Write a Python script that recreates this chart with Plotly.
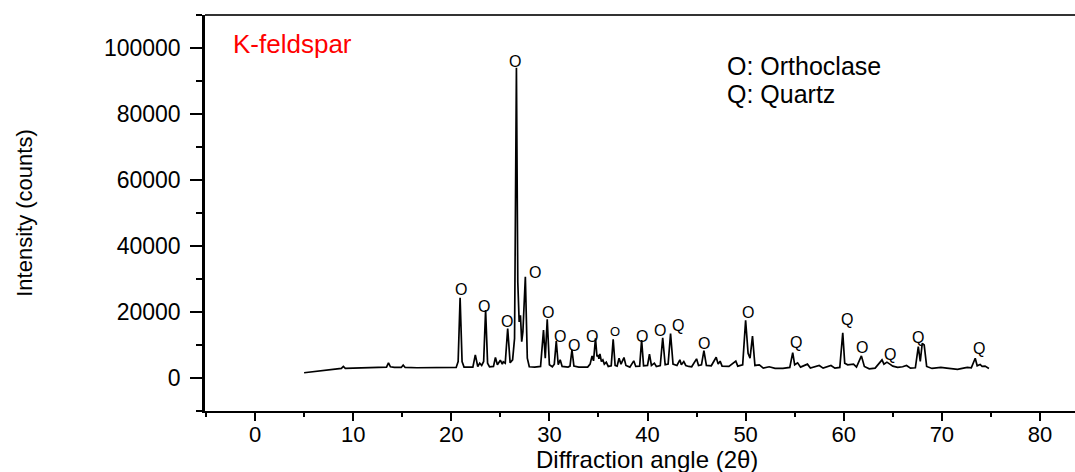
import plotly.graph_objects as go

# XRD pattern (2theta in degrees, intensity in counts)
two_theta = [
    5.0, 6.0, 7.0, 8.0, 8.8, 9.0, 9.2, 10.0, 11.0, 12.0, 13.0, 13.4, 13.6, 13.8, 14.2,
    14.9, 15.1, 15.3, 16.5, 18.0, 19.5, 20.5, 20.7, 20.9, 21.1, 21.3, 22.2, 22.45, 22.7,
    22.9, 23.1, 23.3, 23.5, 23.7, 23.9, 24.3, 24.5, 24.7, 25.0, 25.2, 25.3, 25.5, 25.75,
    26.0, 26.25, 26.45, 26.64, 26.78, 26.92, 27.05, 27.18, 27.3, 27.55, 27.75, 27.95,
    28.5, 29.1, 29.4, 29.58, 29.78, 30.0, 30.3, 30.5, 30.7, 30.9, 31.1, 31.3, 31.9, 32.1,
    32.3, 32.5, 33.0, 33.9, 34.15, 34.35, 34.5, 34.7, 34.85, 34.95, 35.05, 35.15, 35.3,
    35.45, 35.6, 35.8, 36.0, 36.3, 36.5, 36.7, 36.9, 37.1, 37.3, 37.6, 37.8, 38.2, 38.6,
    38.8, 39.2, 39.4, 39.6, 40.0, 40.2, 40.4, 40.7, 40.9, 41.3, 41.55, 41.8, 42.1, 42.35,
    42.6, 43.0, 43.3, 43.45, 43.7, 43.9, 44.2, 44.5, 45.0, 45.2, 45.5, 45.75, 46.0, 46.5,
    47.0, 47.2, 47.4, 47.6, 48.3, 49.0, 49.2, 49.7, 50.0, 50.25, 50.45, 50.7, 50.95, 51.4,
    51.8, 52.4, 53.0, 53.8, 54.5, 54.8, 55.0, 55.3, 55.6, 56.3, 56.6, 57.5, 57.9, 58.7,
    59.1, 59.6, 59.9, 60.1, 60.4, 61.0, 61.3, 61.8, 62.1, 62.6, 63.2, 63.9, 64.1, 64.4,
    64.7, 65.0, 65.5, 66.0, 66.4, 66.8, 67.3, 67.6, 67.8, 68.0, 68.2, 68.45, 69.0, 69.9,
    70.5, 71.6, 72.2, 72.6, 73.0, 73.4, 73.6, 73.9, 74.1, 74.4, 74.8,
]
intensity = [
    1600, 2000, 2300, 2600, 2900, 3500, 2900, 3000, 3100, 3100, 3200, 3300, 4600, 3400, 3200,
    3200, 3900, 3200, 3100, 3200, 3100, 3200, 5000, 24300, 5000, 3300, 3300, 7000, 3500,
    4500, 3800, 5000, 20600, 4500, 3400, 3500, 6200, 4000, 5400, 4200, 4900, 4500, 15000,
    4600, 5500, 12000, 94000, 29000, 17000, 19000, 11000, 14000, 30700, 6000, 3400,
    3300, 3500, 14500, 6000, 17800, 4000, 3400, 4200, 11200, 4000, 5500, 3500, 3300, 3600,
    8500, 3600, 3300, 3300, 4200, 6700, 5200, 12000, 6500, 7000, 5800, 7300, 5000,
    5500, 4200, 4800, 3500, 3700, 11700, 3800, 3600, 6000, 4200, 6200, 3800, 3300, 5200,
    3500, 3600, 11500, 3700, 3800, 7200, 3800, 4500, 3500, 3800, 12200, 4000, 4200, 13500,
    4200, 3800, 5500, 4000, 5000, 3800, 3500, 3400, 5800, 3800, 4000, 8300, 3800, 3700,
    6300, 4200, 5100, 3600, 3500, 5100, 3600, 4000, 17500, 7500, 6000, 12700, 3800, 4000,
    3000, 3400, 2900, 2900, 3200, 7700, 4000, 4600, 3300, 4200, 3000, 3800, 3000, 3800,
    3000, 3200, 13700, 4500, 4000, 4200, 3300, 6700, 3500, 2800, 3000, 5500, 4200, 4800,
    4200, 3600, 3200, 3400, 3800, 3000, 3100, 9500, 5000, 10500, 10000, 3500, 2900, 3200,
    3000, 2600, 3000, 3200, 3100, 6000, 3700, 4100, 3500, 3600, 2900,
]

# Phase labels over peaks
label_text = ["O", "O", "O", "O", "O", "O", "O", "O", "O", "O", "O", "O", "Q",
              "O", "O", "Q", "Q", "O", "Q", "Q", "Q"]
label_x = [21.0, 23.3, 25.7, 26.5, 28.5, 29.9, 31.1, 32.5, 34.3, 36.7, 39.4, 41.3, 43.1,
           45.8, 50.2, 55.1, 60.3, 61.9, 64.7, 67.6, 73.8]
label_y = [26700, 21800, 17000, 96000, 32100, 20000, 12700, 10000, 12700, 14200, 12700,
           14500, 15800, 10600, 19700, 10900, 17600, 9100, 7000, 12400, 8800]
label_size = [16, 16, 16, 16, 16, 16, 16, 16, 16, 13, 16, 16, 16, 16, 16, 16, 16, 16, 16, 16, 16]

x_ticks = [0, 10, 20, 30, 40, 50, 60, 70, 80]
y_ticks = [0, 20000, 40000, 60000, 80000, 100000]

x_title = "Diffraction angle (2θ)"
y_title = "Intensity (counts)"

FONT = "Liberation Sans, Arial, sans-serif"

fig = go.Figure()
fig.add_trace(go.Scatter(
    x=two_theta, y=intensity, mode="lines",
    line=dict(color="black", width=1.7),
    showlegend=False, hoverinfo="skip",
))

annotations = []
for t, x, y, s in zip(label_text, label_x, label_y, label_size):
    annotations.append(dict(x=x, y=y, text=t, showarrow=False,
                            font=dict(family=FONT, size=s, color="black"),
                            xanchor="center", yanchor="middle"))

annotations.append(dict(x=-2.4, y=101200, text="K-feldspar", showarrow=False,
                        font=dict(family=FONT, size=26, color="red"),
                        xanchor="left", yanchor="middle"))
annotations.append(dict(x=47.9, y=94600, text="O: Orthoclase", showarrow=False,
                        font=dict(family=FONT, size=25, color="black"),
                        xanchor="left", yanchor="middle"))
annotations.append(dict(x=47.9, y=86000, text="Q: Quartz", showarrow=False,
                        font=dict(family=FONT, size=25, color="black"),
                        xanchor="left", yanchor="middle"))
# x-axis title, placed just below the tick labels near the bottom edge as in the reference
annotations.append(dict(x=0.508, y=0, xref="paper", yref="paper", text=x_title,
                        showarrow=False, xanchor="center", yanchor="top", yshift=-33,
                        font=dict(family=FONT, size=24, color="black")))

fig.update_layout(
    width=1075, height=472,
    margin=dict(l=205, r=0, t=15, b=61),
    paper_bgcolor="white", plot_bgcolor="white",
    font=dict(family=FONT, color="black"),
    annotations=annotations,
    shapes=[dict(type="line", xref="paper", yref="paper", x0=0, x1=1, y0=1, y1=1,
                 line=dict(color="#333333", width=2))],
    xaxis=dict(
        range=[-5.1, 83.57], tickvals=x_ticks, ticktext=[str(v) for v in x_ticks],
        showgrid=False, zeroline=False, showline=True, linecolor="black", linewidth=2,
        ticks="outside", ticklen=8, tickwidth=2, tickcolor="black", ticklabelstandoff=-5,
        tickfont=dict(family=FONT, size=22, color="black"),
        minor=dict(dtick=5, tick0=0, ticks="outside", ticklen=4, tickwidth=2,
                   tickcolor="black", showgrid=False),
        automargin=False,
    ),
    yaxis=dict(
        range=[-10000, 110000], tickvals=y_ticks, ticktext=[str(v) for v in y_ticks],
        showgrid=False, zeroline=False, showline=True, linecolor="black", linewidth=2.5,
        ticks="outside", ticklen=12, tickwidth=2, tickcolor="black", ticklabelstandoff=5,
        tickfont=dict(family=FONT, size=23, color="black"),
        minor=dict(dtick=10000, tick0=0, ticks="outside", ticklen=6, tickwidth=2,
                   tickcolor="black", showgrid=False),
        title=dict(text=y_title, font=dict(family=FONT, size=22, color="black"),
                   standoff=66),
        automargin=False,
    ),
)

fig.write_html("out.html")
